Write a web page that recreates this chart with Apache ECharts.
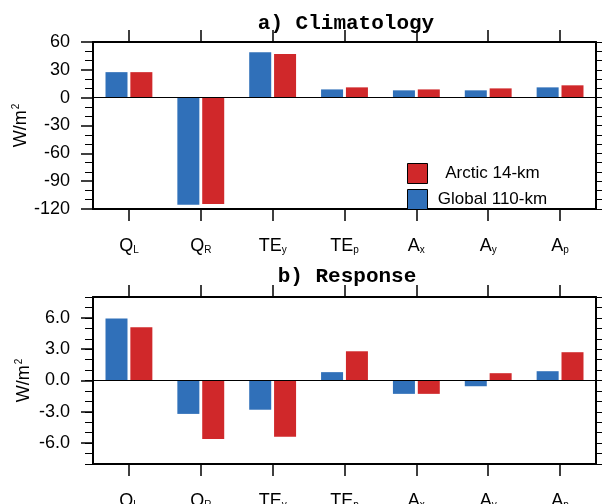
<!DOCTYPE html>
<html><head><meta charset="utf-8">
<script src="https://cdn.jsdelivr.net/npm/echarts@6/dist/echarts.min.js"></script>
<style>html,body{margin:0;padding:0;background:#fff}#c{width:603px;height:504px}</style>
</head><body><div id="c"></div>
<script>
// ---- data ----
var catMain = ['Q', 'Q', 'TE', 'TE', 'A', 'A', 'A'];
var catSub  = ['L', 'R', 'y', 'p', 'x', 'y', 'p'];
var seriesNames = ['Global 110-km', 'Arctic 14-km'];
var climGlobal = [27.5, -115.5, 49.0, 8.9, 7.9, 7.9, 11.1];
var climArctic = [27.5, -114.5, 47.0, 11.1, 8.9, 10.0, 13.3];
var respGlobal = [5.95, -3.2, -2.8, 0.8, -1.28, -0.55, 0.89];
var respArctic = [5.1, -5.6, -5.4, 2.8, -1.28, 0.7, 2.71];
var climTicks = [-120, -90, -60, -30, 0, 30, 60];
var respTicks = [-6, -3, 0, 3, 6];
var titles = ['a) Climatology', 'b) Response'];

var categories = catMain.map(function (m, i) { return m + '_' + catSub[i]; });
var BLUE = '#3070b9', RED = '#d0282a';
var SANS = 'Liberation Sans, Arial, Helvetica, sans-serif';

var catLabel = {
  show: true, interval: 0, margin: 27, color: '#000', fontFamily: SANS,
  formatter: function (v) { var p = v.split('_'); return '{m|' + p[0] + '}{s|' + p[1] + '}'; },
  rich: {
    m: { fontSize: 18, fontFamily: SANS, color: '#000', lineHeight: 20 },
    s: { fontSize: 10, fontFamily: SANS, color: '#000', lineHeight: 20, padding: [9, 0, 0, 0] }
  }
};
var lineStyle = { color: '#000', width: 2 };
var tickStyle = { color: '#000', width: 1.5 };

function xAxes(gi) {
  return [
    { gridIndex: gi, type: 'category', data: categories, position: 'bottom',
      axisLine: { show: true, onZero: false, lineStyle: lineStyle },
      axisTick: { show: true, alignWithLabel: true, interval: 0, length: 12, lineStyle: tickStyle },
      axisLabel: catLabel, splitLine: { show: false } },
    { gridIndex: gi, type: 'category', data: categories, position: 'top',
      axisLine: { show: true, onZero: false, lineStyle: lineStyle },
      axisTick: { show: true, alignWithLabel: true, interval: 0, length: 12, lineStyle: tickStyle },
      axisLabel: { show: false, interval: 0 }, splitLine: { show: false } }
  ];
}
function yName(gap) {
  return {
    name: '{a|W/m}{b|2}', nameLocation: 'middle', nameRotate: 90, nameGap: gap, nameMoveOverlap: false,
    nameTextStyle: { rich: {
      a: { fontSize: 18, fontFamily: SANS, color: '#000' },
      b: { fontSize: 10, fontFamily: SANS, color: '#000', padding: [0, 0, 10, 1] }
    } }
  };
}
var yLabelBase = { color: '#000', fontSize: 18, fontFamily: SANS, margin: 23 };

var yAxes = [
  // panel a left
  Object.assign({ gridIndex: 0, type: 'value', position: 'left', min: climTicks[0], max: climTicks[climTicks.length - 1], interval: 30,
    axisLine: { show: true, lineStyle: lineStyle },
    axisTick: { show: true, length: 12, lineStyle: tickStyle },
    minorTick: { show: true, splitNumber: 3, length: 8, lineStyle: { color: '#000', width: 1 } },
    axisLabel: yLabelBase, splitLine: { show: false } }, yName(62)),
  // panel a right
  { gridIndex: 0, type: 'value', position: 'right', min: -120, max: 60, interval: 10,
    axisLine: { show: true, lineStyle: lineStyle },
    axisTick: { show: true, length: 6, lineStyle: { color: '#000', width: 1 } },
    axisLabel: { show: false }, splitLine: { show: false } },
  // panel b left (minor ticks every 1, labels at custom values)
  Object.assign({ gridIndex: 1, type: 'value', position: 'left', min: -8, max: 8, interval: 1,
    axisLine: { show: true, lineStyle: lineStyle },
    axisTick: { show: true, length: 8, lineStyle: { color: '#000', width: 1 } },
    axisLabel: Object.assign({ customValues: respTicks, formatter: function (v) { return v.toFixed(1); } }, yLabelBase),
    splitLine: { show: false } }, yName(59)),
  // panel b right
  { gridIndex: 1, type: 'value', position: 'right', min: -8, max: 8, interval: 1,
    axisLine: { show: true, lineStyle: lineStyle },
    axisTick: { show: true, length: 6, lineStyle: { color: '#000', width: 1 } },
    axisLabel: { show: false }, splitLine: { show: false } },
  // panel b left major ticks overlay
  { gridIndex: 1, type: 'value', position: 'left', min: -8, max: 8, interval: 1,
    axisLine: { show: false },
    axisTick: { show: true, length: 12, customValues: respTicks, lineStyle: tickStyle },
    axisLabel: { show: false }, splitLine: { show: false } }
];

var zeroLine = { silent: true, symbol: 'none', label: { show: false },
  lineStyle: { color: '#000', width: 1.2, type: 'solid' }, data: [{ yAxis: 0 }] };

function bar(name, data, color, xi, yi, mark) {
  var s = { name: name, type: 'bar', data: data, xAxisIndex: xi, yAxisIndex: yi,
    barWidth: 22, barGap: '13%', itemStyle: { color: color }, animation: false };
  if (mark) s.markLine = zeroLine;
  return s;
}

var chart = echarts.init(document.getElementById('c'), null, { renderer: 'canvas' });
chart.setOption({
  backgroundColor: '#fff',
  animation: false,
  title: [
    { text: titles[0], left: 341, textAlign: 'center', top: 8,
      textStyle: { fontFamily: 'Liberation Mono, Courier New, monospace', fontWeight: 'bold', fontSize: 21, color: '#000' } },
    { text: titles[1], left: 342, textAlign: 'center', top: 261,
      textStyle: { fontFamily: 'Liberation Mono, Courier New, monospace', fontWeight: 'bold', fontSize: 21, color: '#000' } }
  ],
  grid: [
    { left: 93, top: 42, width: 503, height: 167, outerBoundsMode: 'none', containLabel: false },
    { left: 93, top: 297, width: 503, height: 167, outerBoundsMode: 'none', containLabel: false }
  ],
  legend: {
    orient: 'vertical', left: 402, top: 158, itemWidth: 20, itemHeight: 20, itemGap: 5,
    icon: 'rect', data: [seriesNames[1], seriesNames[0]],
    itemStyle: { borderColor: '#000', borderWidth: 1 },
    formatter: function (n) { return '{t|' + n + '}'; },
    textStyle: { rich: { t: { width: 120, align: 'center', fontSize: 17, fontFamily: SANS, color: '#000' } } }
  },
  xAxis: xAxes(0).concat(xAxes(1)),
  yAxis: yAxes,
  series: [
    bar(seriesNames[0], climGlobal, BLUE, 0, 0, true),
    bar(seriesNames[1], climArctic, RED, 0, 0, false),
    bar(seriesNames[0], respGlobal, BLUE, 2, 2, true),
    bar(seriesNames[1], respArctic, RED, 2, 2, false)
  ]
});
</script></body></html>
